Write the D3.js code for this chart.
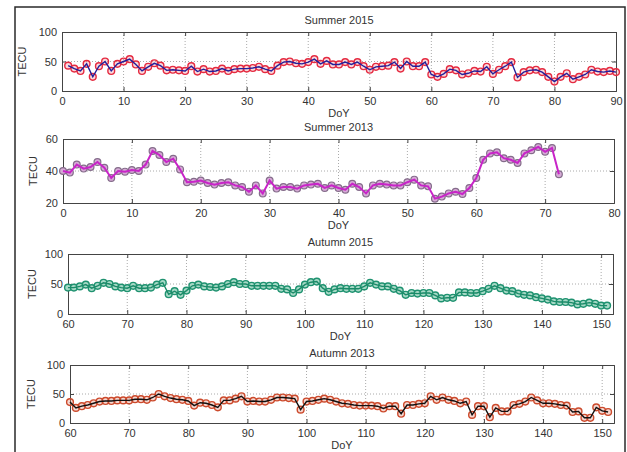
<!DOCTYPE html>
<html>
<head>
<meta charset="utf-8">
<script src="https://cdn.jsdelivr.net/npm/d3@7"></script>
<style>
    body { margin: 0; background: white; }
    svg text { font-family: "Liberation Sans", Arial, sans-serif; fill: #333; }
</style>
</head>
<body>
<svg id="chart" width="627" height="452"></svg>
<script>
// Data (TECU per day of year)
const summer2015Start = 1;
const summer2015 = [43, 38, 34, 46, 24, 42, 50, 34, 46, 50, 54, 45, 34, 41, 47, 43, 35, 36, 35, 34,
    42, 33, 37, 33, 34, 38, 34, 37, 38, 38, 39, 41, 37, 34, 43, 49, 50, 47, 46, 49,
    54, 46, 51, 45, 45, 49, 45, 49, 42, 36, 41, 42, 43, 49, 38, 50, 42, 42, 49, 28,
    24, 29, 37, 35, 28, 30, 34, 33, 41, 29, 36, 42, 49, 23, 32, 35, 36, 32, 24, 16,
    24, 30, 20, 24, 28, 36, 33, 32, 34, 32];

const summer2013Start = 0;
const summer2013 = [40, 39, 44, 41.5, 42.5, 45.6, 42, 35.6, 40, 39.6, 40.6, 40, 44, 52.5, 50, 45.6, 47.7, 41,
    33, 33.3, 34, 32.5, 31.5, 32.5, 33, 31, 30, 27, 31, 26, 34, 29, 30, 30, 29, 31,
    31.5, 32, 29.4, 31, 29.4, 28.3, 32, 30, 26, 31, 32, 31.5, 31, 31, 33, 34.6, 31, 30.4,
    22.7, 24, 26, 27, 25.6, 29.4, 35.6, 47, 51, 51.7, 48, 47, 45, 51, 53, 55, 52, 54.4, 38];

const autumn2015Start = 60;
const autumn2015 = [44, 44, 46, 49, 43, 47, 52, 50, 46, 44, 43, 47, 43, 43, 44, 49, 52, 33, 38, 32,
    39, 47, 49, 46, 45, 44, 46, 50, 53, 50, 50, 47, 47, 47, 47, 47, 42, 41, 35, 41,
    49, 53, 54, 43, 37, 41, 43, 42, 42, 42, 46, 52, 49, 46, 46, 42, 39, 32, 35, 34,
    35, 35, 31, 26, 27, 27, 36, 36, 35, 35, 38, 42, 47, 43, 39, 38, 34, 32, 31, 28,
    26, 24, 21, 20, 20, 19, 16, 17, 19, 17, 14, 14];

const autumn2013Start = 60;
const autumn2013 = [36, 26, 29, 31, 34, 37, 38, 38, 39, 39, 39, 41, 41, 40, 44, 50, 46, 43, 41, 40,
    38, 30, 35, 34, 31, 27, 39, 39, 42, 46, 37, 38, 37, 37, 40, 44, 44, 43, 42, 23,
    37, 38, 40, 42, 40, 37, 34, 33, 31, 30, 30, 30, 29, 25, 29, 29, 16, 31, 31, 33,
    34, 46, 40, 44, 40, 38, 34, 37, 14, 29, 29, 10, 26, 20, 20, 31, 33, 37, 44, 39,
    34, 34, 33, 31, 30, 19, 20, 9, 9, 27, 21, 19];

const panelTitles = ['Summer 2015', 'Summer 2013', 'Autumn 2015', 'Autumn 2013'];
const xTicks = [[0, 10, 20, 30, 40, 50, 60, 70, 80, 90], [0, 10, 20, 30, 40, 50, 60, 70, 80],
    [60, 70, 80, 90, 100, 110, 120, 130, 140, 150], [60, 70, 80, 90, 100, 110, 120, 130, 140, 150]];
const yTicks = [[0, 50, 100], [20, 40, 60], [0, 50, 100], [0, 50, 100]];

// Layout + styles of each panel
const panels = [
    { values: summer2015, start: summer2015Start, xDomain: [0, 90], yDomain: [0, 100],
      box: { l: 62, r: 616, t: 32, b: 91 }, yLabelX: 22,
      line: '#23209a', lineWidth: 1.4, mStroke: '#e52a40', mFill: 'rgba(240,130,140,0.3)', mWidth: 1.4 },
    { values: summer2013, start: summer2013Start, xDomain: [0, 80], yDomain: [20, 60],
      box: { l: 63, r: 614, t: 139, b: 203 }, yLabelX: 33,
      line: '#c824c8', lineWidth: 2, mStroke: '#846c8a', mFill: '#d6aad6', mWidth: 1.2 },
    { values: autumn2015, start: autumn2015Start, xDomain: [60, 152], yDomain: [0, 100],
      box: { l: 68, r: 613, t: 254, b: 314 }, yLabelX: 32,
      line: '#1b8a68', lineWidth: 1.4, mStroke: '#1f9270', mFill: '#a6d9c6', mWidth: 1.4 },
    { values: autumn2013, start: autumn2013Start, xDomain: [60, 152], yDomain: [0, 100],
      box: { l: 70, r: 614, t: 365, b: 423 }, yLabelX: 31,
      line: '#111', lineWidth: 1.4, mStroke: '#cc4a2c', mFill: 'rgba(230,140,120,0.35)', mWidth: 1.4 }
];

const svg = d3.select('#chart');

// Outer frame
svg.append('rect')
    .attr('x', 15).attr('y', 7)
    .attr('width', 610).attr('height', 460)
    .attr('fill', 'white')
    .attr('stroke', '#2a2a2a')
    .attr('stroke-width', 1.5);

panels.forEach((p, i) => {
    const b = p.box;
    const x = d3.scaleLinear().domain(p.xDomain).range([b.l, b.r]);
    const y = d3.scaleLinear().domain(p.yDomain).range([b.b, b.t]);
    const g = svg.append('g');
    const pts = p.values.map((v, k) => ({ day: p.start + k, v }));

    // Grid
    g.append('g').selectAll('line').data(xTicks[i].filter((t) => t > p.xDomain[0] && t < p.xDomain[1]))
        .enter().append('line')
        .attr('x1', (t) => x(t)).attr('x2', (t) => x(t))
        .attr('y1', b.t).attr('y2', b.b)
        .attr('stroke', '#aaa').attr('stroke-dasharray', '1,2');
    g.append('g').selectAll('line').data(yTicks[i].filter((t) => t > p.yDomain[0] && t < p.yDomain[1]))
        .enter().append('line')
        .attr('y1', (t) => y(t)).attr('y2', (t) => y(t))
        .attr('x1', b.l).attr('x2', b.r)
        .attr('stroke', '#aaa').attr('stroke-dasharray', '1,2');

    // Axes (inward ticks, matlab style)
    g.append('g').attr('transform', `translate(0,${b.b})`)
        .call(d3.axisBottom(x).tickValues(xTicks[i]).tickSize(-4).tickPadding(6));
    g.append('g').attr('transform', `translate(0,${b.t})`)
        .call(d3.axisTop(x).tickValues(xTicks[i]).tickSize(-4).tickFormat(''));
    g.append('g').attr('transform', `translate(${b.l},0)`)
        .call(d3.axisLeft(y).tickValues(yTicks[i]).tickSize(-4).tickPadding(5));
    g.append('g').attr('transform', `translate(${b.r},0)`)
        .call(d3.axisRight(y).tickValues(yTicks[i]).tickSize(-4).tickFormat(''));
    g.selectAll('.domain').attr('stroke', '#444');
    g.selectAll('.tick line').attr('stroke', '#444');
    g.selectAll('.tick text').attr('font-size', 11).attr('fill', '#333')
        .attr('font-family', '"Liberation Sans", Arial, sans-serif');

    // Markers
    g.append('g').selectAll('circle').data(pts)
        .enter().append('circle')
        .attr('cx', (d) => x(d.day))
        .attr('cy', (d) => y(d.v))
        .attr('r', 3.4)
        .attr('fill', p.mFill)
        .attr('stroke', p.mStroke)
        .attr('stroke-width', p.mWidth);

    // Line
    g.append('path').datum(pts)
        .attr('fill', 'none')
        .attr('stroke', p.line)
        .attr('stroke-width', p.lineWidth)
        .attr('d', d3.line().x((d) => x(d.day)).y((d) => y(d.v)));

    // Labels
    g.append('text')
        .attr('x', (b.l + b.r) / 2).attr('y', b.t - 8)
        .attr('text-anchor', 'middle').attr('font-size', 11)
        .text(panelTitles[i]);
    g.append('text')
        .attr('x', (b.l + b.r) / 2).attr('y', b.b + 26)
        .attr('text-anchor', 'middle').attr('font-size', 11)
        .text('DoY');
    g.append('text')
        .attr('transform', `translate(${p.yLabelX},${(b.t + b.b) / 2}) rotate(-90)`)
        .attr('text-anchor', 'middle').attr('dy', '0.35em').attr('font-size', 11)
        .text('TECU');
});
</script>
</body>
</html>
